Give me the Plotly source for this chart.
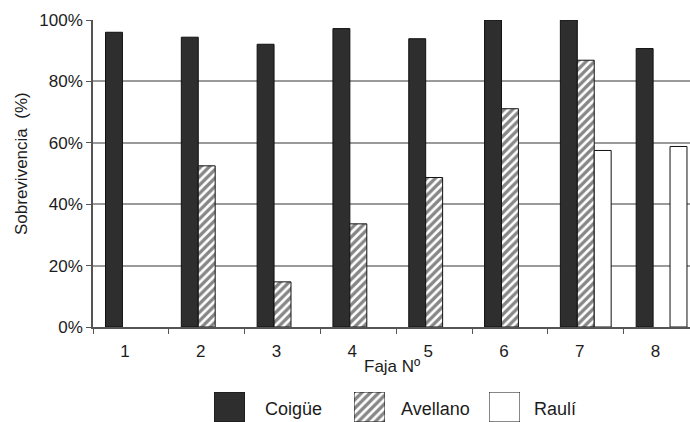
import plotly.graph_objects as go

# Survival (%) per strip for each species
fajas = ["1", "2", "3", "4", "5", "6", "7", "8"]
coigue = [96, 94.4, 92.1, 97.2, 93.9, 100, 100, 90.7]
avellano = [None, 52.5, 14.7, 33.6, 48.7, 71.1, 86.9, None]
rauli = [None, None, None, None, None, None, 57.5, 58.8]
y_ticks = [0, 20, 40, 60, 80, 100]
y_tick_text = [f"{v}%" for v in y_ticks]

W, H = 690, 422
FONT = "Liberation Sans, Arial, sans-serif"
TXT = "#1c1c1c"
OUTLINE = dict(color="#111111", width=1)

styles = {
    "Coigüe": dict(marker=dict(color="#2e2e2e", line=OUTLINE)),
    "Avellano": dict(marker=dict(color="white", line=OUTLINE,
                                 pattern=dict(shape="/", fgcolor="#0e0e0e", bgcolor="white",
                                              size=6, solidity=0.55, fillmode="overlay"))),
    "Raulí": dict(marker=dict(color="white", line=OUTLINE)),
}
series = {"Coigüe": coigue, "Avellano": avellano, "Raulí": rauli}

fig = go.Figure()
for name, vals in series.items():
    fig.add_trace(go.Bar(x=fajas, y=vals, name=name, showlegend=False,
                         **styles[name]))


def px_x(p):
    return p / W


def px_y(p):
    return max(0.0, 1 - p / H)


# Legend built from small swatch axes below the chart
legend_items = [("Coigüe", 214, 263), ("Avellano", 354, 399), ("Raulí", 489, 532)]
annotations = []
for i, (name, sx, tx) in enumerate(legend_items, start=2):
    fig.add_trace(go.Bar(x=[0], y=[1], width=[1], xaxis=f"x{i}", yaxis=f"y{i}",
                         showlegend=False, hoverinfo="skip", **styles[name]))
    fig.layout[f"xaxis{i}"] = dict(domain=[px_x(sx), px_x(sx + 31)], range=[-0.5, 0.5],
                                   visible=False, fixedrange=True)
    fig.layout[f"yaxis{i}"] = dict(domain=[px_y(423), px_y(392)], range=[0, 1],
                                   visible=False, fixedrange=True)
    annotations.append(dict(text=name, x=px_x(tx), y=px_y(409), xref="paper", yref="paper",
                            xanchor="left", yanchor="middle", showarrow=False,
                            font=dict(family=FONT, size=18, color=TXT)))

annotations.append(dict(text="Sobrevivencia  (%)", textangle=-90, x=px_x(21), y=px_y(164),
                        xref="paper", yref="paper", xanchor="center", yanchor="middle",
                        showarrow=False, font=dict(family=FONT, size=17, color=TXT)))
annotations.append(dict(text="Faja Nº", x=px_x(392), y=px_y(366), xref="paper", yref="paper",
                        xanchor="center", yanchor="middle", showarrow=False,
                        font=dict(family=FONT, size=17, color=TXT)))

fig.update_layout(
    width=W, height=H,
    margin=dict(l=0, r=0, t=0, b=0),
    paper_bgcolor="white", plot_bgcolor="white",
    barmode="group", bargap=0.33, bargroupgap=0,
    font=dict(family=FONT, size=17, color=TXT),
    annotations=annotations,
    xaxis=dict(domain=[px_x(93), 1], range=[-0.5, 7.375], type="category",
               showline=True, linecolor="#555555", linewidth=1.5,
               ticks="outside", tickson="boundaries", ticklen=5, tickcolor="#555555",
               ticklabelshift=-6, ticklabelstandoff=8,
               showgrid=False, fixedrange=True, automargin=False),
    yaxis=dict(domain=[px_y(327), px_y(20)], range=[0, 100], tickvals=y_ticks,
               ticktext=y_tick_text, showline=True, linecolor="#555555", linewidth=1.5,
               ticks="outside", ticklen=5, tickcolor="#555555",
               showgrid=True, gridcolor="#9a9a9a", gridwidth=1.5,
               zeroline=False, fixedrange=True, automargin=False),
)

fig.write_html("out.html")
